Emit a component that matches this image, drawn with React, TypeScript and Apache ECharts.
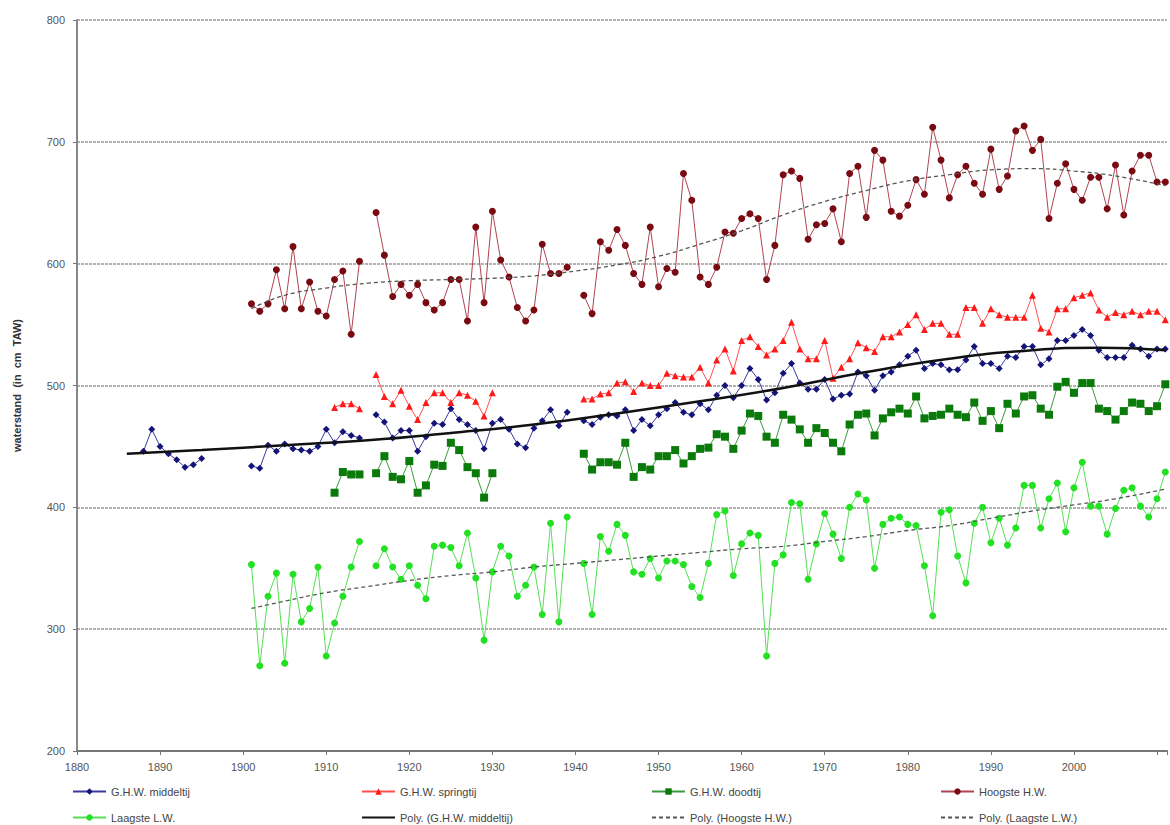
import React, { useEffect, useRef } from "react";
import * as echarts from "echarts";

// ---- data ----
const middeltijStart = 1888;
const middeltijValues = [
  446, 464, 450, 444, 439, 433, 435, 440, null, null, null, null, null,
  434, 432, 451, 446, 452, 448, 447, 446, 450, 464, 453, 462, 459, 457, null,
  476, 470, 457, 463, 463, 446, 458, 469, 468, 481, 472, 468, 463, 448, 469,
  472, 464, 452, 449, 465, 471, 480, 467, 478, null,
  471, 468, 474, 476, 475, 480, 463, 472, 467, 476, 481, 486, 478, 476, 485,
  480, 492, 500, 490, 500, 514, 505, 488, 494, 510, 518, 502, 497, 497, 505,
  489, 492, 493, 511, 508, 496, 508, 511, 517, 524, 529, 514, 518, 517, 513,
  513, 521, 532, 518, 518, 514, 524, 523, 532, 532, 517, 522, 537, 537, 541,
  546, 541, 529, 523, 523, 523, 533, 530, 524, 530, 530,
];

const springtijStart = 1911;
const springtijValues = [
  482, 485, 485, 481, null, 509, 491, 485, 496, 483, 472, 486, 494, 494, 486,
  494, 492, 487, 475, 494, null, null, null, null, null, null, null, null, null, null,
  489, 489, 493, 494, 502, 503, 495, 502, 500, 500, 510, 508, 507, 507, 515,
  502, 521, 530, 512, 537, 540, 532, 525, 530, 537, 552, 530, 522, 522, 537,
  506, 515, 522, 535, 531, 528, 540, 540, 544, 550, 558, 546, 551, 551, 542,
  542, 564, 564, 551, 563, 558, 556, 556, 556, 574, 547, 544, 563, 563, 572,
  574, 576, 562, 556, 560, 558, 561, 558, 561, 561, 554,
];

const doodtijStart = 1911;
const doodtijValues = [
  412, 429, 427, 427, null, 428, 442, 425, 423, 438, 412, 418, 435, 434, 453,
  447, 433, 428, 408, 428, null, null, null, null, null, null, null, null, null, null,
  444, 431, 437, 437, 435, 453, 425, 433, 431, 442, 442, 447, 436, 442, 448,
  449, 460, 458, 448, 463, 477, 475, 458, 453, 476, 472, 464, 453, 465, 461,
  453, 446, 468, 476, 477, 459, 473, 478, 481, 477, 491, 473, 475, 476, 481,
  476, 474, 486, 471, 479, 465, 485, 477, 491, 492, 481, 476, 499, 503, 494,
  502, 502, 481, 479, 472, 479, 486, 485, 479, 483, 501,
];

const hoogsteStart = 1901;
const hoogsteValues = [
  567, 561, 567, 595, 563, 614, 563, 585, 561, 557, 587, 594, 542, 602, null,
  642, 607, 573, 583, 574, 583, 568, 562, 568, 587, 587, 553, 630, 568, 643,
  603, 589, 564, 553, 562, 616, 592, 592, 597, null,
  574, 559, 618, 611, 628, 615, 592, 583, 630, 581, 596, 593, 674, 652, 589,
  583, 597, 626, 625, 637, 641, 637, 587, 615, 673, 676, 670, 620, 632, 633,
  645, 618, 674, 680, 638, 693, 685, 643, 639, 648, 669, 657, 712, 685, 654,
  673, 680, 666, 657, 694, 661, 672, 709, 713, 693, 702, 637, 666, 682, 661,
  652, 671, 671, 645, 681, 640, 676, 689, 689, 667, 667,
];

const laagsteStart = 1901;
const laagsteValues = [
  353, 270, 327, 346, 272, 345, 306, 317, 351, 278, 305, 327, 351, 372, null,
  352, 366, 351, 341, 352, 336, 325, 368, 369, 367, 352, 379, 342, 291, 347,
  368, 360, 327, 336, 351, 312, 387, 306, 392, null,
  354, 312, 376, 364, 386, 377, 347, 345, 358, 342, 356, 356, 353, 335, 326,
  354, 394, 397, 344, 370, 379, 377, 278, 354, 361, 404, 403, 341, 370, 395,
  378, 358, 400, 411, 406, 350, 386, 391, 392, 386, 385, 352, 311, 396, 398,
  360, 338, 387, 400, 371, 391, 369, 383, 418, 418, 383, 407, 420, 380, 416,
  437, 401, 401, 378, 399, 414, 416, 401, 392, 407, 429,
];

// trend lines
const polyMiddeltijYears = [1886, 1895, 1905, 1915, 1925, 1935, 1945, 1955, 1965, 1975, 1985, 1995, 2003, 2011];
const polyMiddeltijValues = [444, 447, 451, 455, 461, 468, 477, 487, 498, 511, 522, 529, 531, 529];

const polyHoogsteYears = [1901, 1905, 1910, 1915, 1920, 1925, 1930, 1935, 1940, 1945, 1950, 1955, 1960, 1965, 1970, 1975, 1980, 1985, 1990, 1995, 2000, 2005, 2011];
const polyHoogsteValues = [563, 574, 580, 584, 586, 587, 588, 590, 594, 599, 606, 616, 627, 640, 651, 660, 668, 673, 677, 678, 676, 672, 664];

const polyLaagsteYears = [1901, 1905, 1910, 1915, 1920, 1925, 1930, 1935, 1940, 1945, 1950, 1955, 1960, 1965, 1970, 1975, 1980, 1985, 1990, 1995, 2000, 2005, 2011];
const polyLaagsteValues = [317, 323, 330, 335, 340, 344, 347, 351, 354, 357, 360, 363, 366, 368, 372, 376, 381, 385, 391, 397, 402, 407, 415];

const yTicks = { min: 200, max: 800, interval: 100 };
// the reference is cropped just after 2011 at its right edge
const xTicks = { min: 1880, max: 2011.2, interval: 10, lastLabel: 2000 };

const names = {
  mid: "G.H.W. middeltij",
  spring: "G.H.W. springtij",
  dood: "G.H.W. doodtij",
  hoog: "Hoogste H.W.",
  laag: "Laagste L.W.",
  polyMid: "Poly. (G.H.W. middeltij)",
  polyHoog: "Poly. (Hoogste H.W.)",
  polyLaag: "Poly. (Laagste L.W.)",
};

const toPairs = (start: number, vals: (number | null)[]) =>
  vals.map((v, i) => [start + i, v]);
const zipPairs = (xs: number[], ys: number[]) => xs.map((x, i) => [x, ys[i]]);

const FONT = "'Liberation Sans', Arial, sans-serif";

function buildOption() {
  const markerSeries = (
    name: string,
    data: any[],
    symbol: string,
    size: number,
    itemColor: string,
    lineColor: string
  ) => ({
    name,
    type: "line",
    data,
    symbol,
    symbolSize: size,
    connectNulls: false,
    itemStyle: { color: itemColor },
    lineStyle: { color: lineColor, width: 1 },
    z: 3,
  });

  const trendSeries = (name: string, data: any[], color: string, width: number, type: any) => ({
    name,
    type: "line",
    data,
    smooth: 0.5,
    symbol: "none",
    itemStyle: { color: "rgba(0,0,0,0)" },
    lineStyle: { color, width, type },
    z: 5,
  });

  const legendLayout = [
    { name: names.mid, left: 72, top: 786 },
    { name: names.spring, left: 361, top: 786 },
    { name: names.dood, left: 651, top: 786 },
    { name: names.hoog, left: 940, top: 786 },
    { name: names.laag, left: 72, top: 812 },
    { name: names.polyMid, left: 361, top: 812 },
    { name: names.polyHoog, left: 651, top: 812 },
    { name: names.polyLaag, left: 940, top: 812 },
  ];

  return {
    animation: false,
    backgroundColor: "#ffffff",
    textStyle: { fontFamily: FONT },
    grid: { left: 77, top: 20, bottom: 74, right: 0, containLabel: false },
    legend: legendLayout.map((l) => ({
      data: [l.name],
      left: l.left,
      top: l.top,
      padding: 0,
      itemWidth: 33,
      itemHeight: 8,
      selectedMode: false,
      textStyle: { fontSize: 11, color: "#444", fontFamily: FONT },
    })),
    xAxis: {
      type: "value",
      min: xTicks.min,
      max: xTicks.max,
      interval: xTicks.interval,
      axisLine: { show: true, onZero: false, lineStyle: { color: "#777", width: 2 } },
      axisTick: { show: true, length: 4, lineStyle: { color: "#777", width: 1 } },
      axisLabel: {
        fontSize: 11,
        color: "#555",
        margin: 10,
        fontFamily: FONT,
        formatter: (v: number) => (v <= xTicks.lastLabel && v % 10 === 0 ? String(v) : ""),
      },
      splitLine: { show: false },
    },
    yAxis: {
      type: "value",
      min: yTicks.min,
      max: yTicks.max,
      interval: yTicks.interval,
      name: "waterstand  (in  cm  TAW)",
      nameLocation: "middle",
      nameGap: 55,
      nameRotate: 90,
      nameTextStyle: { fontSize: 11, fontWeight: "bold", color: "#333", fontFamily: FONT },
      axisLine: { show: true, lineStyle: { color: "#888", width: 2 } },
      axisTick: { show: true, length: 4, lineStyle: { color: "#777", width: 1 } },
      axisLabel: { fontSize: 11, color: "#555", margin: 12, fontFamily: FONT },
      splitLine: { show: true, lineStyle: { color: "#999", width: 1.5, type: [3, 1] } },
    },
    series: [
      markerSeries(names.mid, toPairs(middeltijStart, middeltijValues), "diamond", 7, "#141478", "#3a3aa0"),
      markerSeries(names.spring, toPairs(springtijStart, springtijValues), "triangle", 7, "#ff1a1a", "#ff5050"),
      markerSeries(names.dood, toPairs(doodtijStart, doodtijValues), "rect", 8, "#0a7a0a", "#3a9a3a"),
      markerSeries(names.hoog, toPairs(hoogsteStart, hoogsteValues), "circle", 7, "#7a0a12", "#b04450"),
      markerSeries(names.laag, toPairs(laagsteStart, laagsteValues), "circle", 7, "#22e022", "#55e055"),
      trendSeries(names.polyMid, zipPairs(polyMiddeltijYears, polyMiddeltijValues), "#111111", 2.5, "solid"),
      trendSeries(names.polyHoog, zipPairs(polyHoogsteYears, polyHoogsteValues), "#555555", 1.3, [4, 3]),
      trendSeries(names.polyLaag, zipPairs(polyLaagsteYears, polyLaagsteValues), "#555555", 1.3, [4, 3]),
    ],
  };
}

export default function App() {
  const ref = useRef<HTMLDivElement>(null);
  useEffect(() => {
    if (!ref.current) return;
    const chart = echarts.init(ref.current, null, { renderer: "svg" });
    chart.setOption(buildOption() as any);
    return () => chart.dispose();
  }, []);
  return (
    <div
      ref={ref}
      style={{ position: "absolute", left: 0, top: 0, width: 1170, height: 825, background: "#fff" }}
    />
  );
}
